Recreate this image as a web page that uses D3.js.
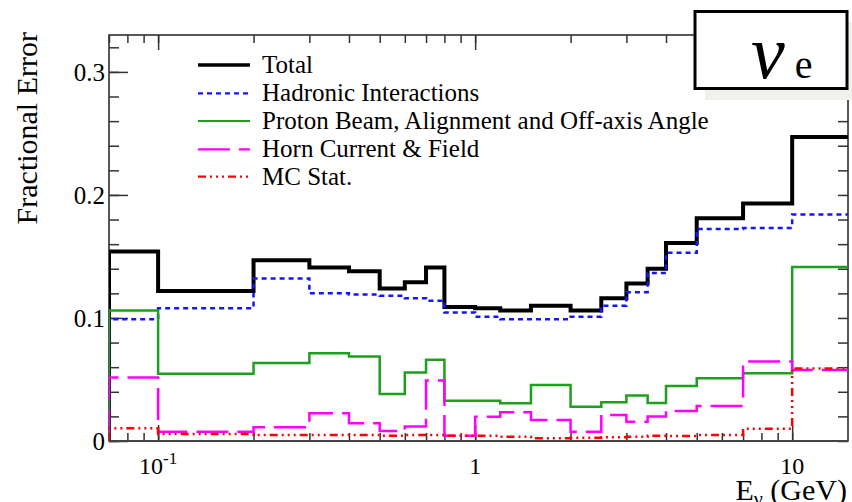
<!DOCTYPE html>
<html>
<head>
<meta charset="utf-8">
<script src="https://cdn.jsdelivr.net/npm/d3@7"></script>
<style>
  html, body { margin: 0; padding: 0; background: #fff; }
  svg { display: block; font-family: "Liberation Serif", "Times New Roman", serif; }
</style>
</head>
<body>
<svg id="chart" width="852" height="502"></svg>
<script>
// Flux binning (GeV) and fractional errors per bin
const binEdges = [0, 0.1, 0.2, 0.3, 0.4, 0.5, 0.6, 0.7, 0.8, 1.0, 1.2, 1.5, 2.0, 2.5, 3.0, 3.5, 4.0, 5.0, 7.0, 10.0, 30.0];
const total    = [0.154, 0.122, 0.147, 0.141, 0.138, 0.124, 0.129, 0.141, 0.109, 0.108, 0.106, 0.110, 0.106, 0.116, 0.128, 0.140, 0.161, 0.181, 0.193, 0.247];
const hadronic = [0.099, 0.108, 0.132, 0.120, 0.119, 0.118, 0.116, 0.114, 0.1045, 0.101, 0.099, 0.099, 0.101, 0.110, 0.121, 0.1365, 0.153, 0.1724, 0.1732, 0.184];
const proton   = [0.106, 0.0546, 0.0633, 0.0714, 0.0687, 0.0383, 0.0556, 0.066, 0.0328, 0.0328, 0.0307, 0.0456, 0.0279, 0.0315, 0.037, 0.0308, 0.0448, 0.051, 0.0551, 0.1414];
const horn     = [0.0516, 0.0076, 0.0111, 0.0225, 0.0144, 0.0081, 0.0117, 0.0491, 0.0043, 0.0198, 0.0234, 0.0171, 0.0076, 0.0212, 0.0157, 0.020, 0.0244, 0.0285, 0.0646, 0.0578];
const mcStat   = [0.0103, 0.0057, 0.0049, 0.0049, 0.0049, 0.0043, 0.0049, 0.0049, 0.0043, 0.0043, 0.0035, 0.0022, 0.0027, 0.003, 0.0035, 0.0043, 0.0041, 0.0049, 0.010, 0.059];

const seriesNames = ["Total", "Hadronic Interactions", "Proton Beam, Alignment and Off-axis Angle", "Horn Current & Field", "MC Stat."];
const yTicks = [0, 0.1, 0.2, 0.3];
const xMajorTicks = [0.1, 1, 10];

const series = [
  { name: seriesNames[0], values: total,    color: "#000000", width: 4,   dash: null },
  { name: seriesNames[1], values: hadronic, color: "#1414ff", width: 2.5, dash: "5 4" },
  { name: seriesNames[2], values: proton,   color: "#1f9f1f", width: 2.5, dash: null },
  { name: seriesNames[3], values: horn,     color: "#ff00ff", width: 2.5, dash: "32 9" },
  { name: seriesNames[4], values: mcStat,   color: "#ff0000", width: 2.5, dash: "8 4 2 4 2 4 2 4" }
];

const svg = d3.select("#chart");
const plot = { left: 109, right: 848, top: 35, bottom: 441 };

const x = d3.scaleLog().domain([0.07, 15]).range([plot.left, plot.right]);
const y = d3.scaleLinear().domain([0, 0.33]).range([plot.bottom, plot.top]);

svg.append("defs").append("clipPath").attr("id", "plotClip")
  .append("rect")
  .attr("x", plot.left).attr("y", plot.top - 5)
  .attr("width", plot.right - plot.left).attr("height", plot.bottom - plot.top + 10);

// Step-histogram path starting and ending on the baseline
function histPath(values) {
  const xe = e => x(Math.max(e, x.domain()[0]));
  const p = d3.path();
  p.moveTo(xe(binEdges[0]), y(0));
  values.forEach((v, i) => {
    p.lineTo(xe(binEdges[i]), y(v));
    p.lineTo(xe(binEdges[i + 1]), y(v));
  });
  p.lineTo(xe(binEdges[binEdges.length - 1]), y(0));
  return p.toString();
}

// Frame
svg.append("rect")
  .attr("x", plot.left).attr("y", plot.top)
  .attr("width", plot.right - plot.left).attr("height", plot.bottom - plot.top)
  .attr("fill", "none").attr("stroke", "#222").attr("stroke-width", 1.5);

// Y ticks (inside, both sides)
const yMinor = d3.range(0, 0.3301, 0.02).concat([0.32]);
const yAxisL = d3.axisRight(y).tickValues(d3.range(0, 0.33, 0.02)).tickSize(10).tickFormat("");
const yAxisR = d3.axisLeft(y).tickValues(d3.range(0, 0.33, 0.02)).tickSize(10).tickFormat("");
const yMajorL = d3.axisRight(y).tickValues(yTicks).tickSize(19).tickFormat("");
[[yAxisL, plot.left], [yMajorL, plot.left], [yAxisR, plot.right]].forEach(([ax, px]) => {
  const g = svg.append("g").attr("transform", `translate(${px},0)`).call(ax);
  g.select(".domain").remove();
  g.selectAll("line").attr("stroke", "#333").attr("stroke-width", 1.5);
});

// X ticks (log decades with minor ticks), bottom and top
const xAllTicks = [];
[0.01, 0.1, 1, 10].forEach(d => { for (let k = 1; k <= 9; k++) { const v = d * k; if (v >= 0.07 && v <= 15) xAllTicks.push(v); } });
const xMinorB = d3.axisTop(x).tickValues(xAllTicks).tickSize(8).tickFormat("");
const xMajorB = d3.axisTop(x).tickValues(xMajorTicks).tickSize(16).tickFormat("");
const xMinorT = d3.axisBottom(x).tickValues(xAllTicks).tickSize(8).tickFormat("");
const xMajorT = d3.axisBottom(x).tickValues(xMajorTicks).tickSize(15).tickFormat("");
[[xMinorB, plot.bottom], [xMajorB, plot.bottom], [xMinorT, plot.top], [xMajorT, plot.top]].forEach(([ax, py]) => {
  const g = svg.append("g").attr("transform", `translate(0,${py})`).call(ax);
  g.select(".domain").remove();
  g.selectAll("line").attr("stroke", "#333").attr("stroke-width", 1.5);
});

// Bottom axis line
svg.append("line")
  .attr("x1", plot.left).attr("x2", plot.right)
  .attr("y1", plot.bottom).attr("y2", plot.bottom)
  .attr("stroke", "#444").attr("stroke-width", 2);

// Y tick labels
svg.append("g").selectAll("text").data(yTicks).join("text")
  .attr("x", 105).attr("y", d => y(d) + 9)
  .attr("text-anchor", "end").attr("font-size", 25).attr("fill", "#000")
  .text(d => d === 0 ? "0" : d3.format(".1f")(d));

// X tick labels
const xl = svg.append("g").attr("font-size", 24).attr("fill", "#000");
xMajorTicks.forEach(v => {
  const t = xl.append("text").attr("x", x(v)).attr("y", 474).attr("text-anchor", "middle");
  if (v < 1) {
    t.append("tspan").text("10");
    t.append("tspan").attr("dy", -10).attr("font-size", 17).text("-1");
  } else {
    t.text(d3.format("d")(v));
  }
});

// Axis titles
svg.append("text")
  .attr("transform", "translate(37,32) rotate(-90)")
  .attr("text-anchor", "end").attr("font-size", 30).attr("fill", "#000")
  .text("Fractional Error");

const xt = svg.append("text").attr("x", 847).attr("y", 500)
  .attr("text-anchor", "end").attr("font-size", 30).attr("fill", "#000");
xt.append("tspan").text("E");
xt.append("tspan").attr("dy", 6).attr("font-size", 20).text("ν");
xt.append("tspan").attr("dy", -6).text(" (GeV)");

// Histograms
const hg = svg.append("g").attr("clip-path", "url(#plotClip)");
series.forEach(s => {
  hg.append("path")
    .attr("d", histPath(s.values))
    .attr("fill", "none")
    .attr("stroke", s.color)
    .attr("stroke-width", s.width)
    .attr("stroke-dasharray", s.dash)
    .attr("stroke-linejoin", "miter");
});

// Legend
const lg = svg.append("g");
const legendY = [65, 93.3, 121, 149.3, 176.7];
series.forEach((s, i) => {
  lg.append("line")
    .attr("x1", 198).attr("x2", 250).attr("y1", legendY[i]).attr("y2", legendY[i])
    .attr("stroke", s.color).attr("stroke-width", i === 0 ? 3.5 : 2.2)
    .attr("stroke-dasharray", s.dash);
  lg.append("text")
    .attr("x", 262).attr("y", legendY[i] + 8)
    .attr("font-size", 25).attr("fill", "#000")
    .text(s.name);
});

// Flavour label box with shadow
svg.append("rect").attr("x", 705).attr("y", 22).attr("width", 147).attr("height", 78).attr("fill", "#f0f0ec");
svg.append("rect").attr("x", 695).attr("y", 11.5).attr("width", 152).attr("height", 77)
  .attr("fill", "#fff").attr("stroke", "#000").attr("stroke-width", 3);
const nl = svg.append("text").attr("x", 751).attr("y", 78).attr("fill", "#000");
nl.append("tspan").attr("font-size", 76).attr("font-style", "italic").text("ν");
nl.append("tspan").attr("dx", 10).attr("font-size", 40).text("e");
</script>
</body>
</html>
